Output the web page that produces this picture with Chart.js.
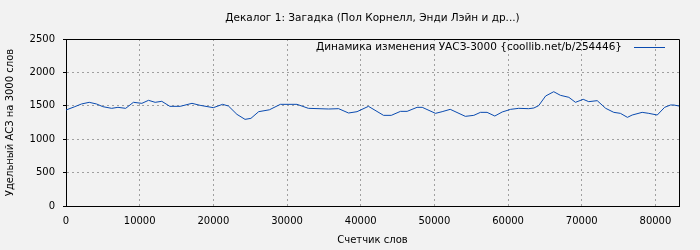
<!DOCTYPE html>
<html>
<head>
<meta charset="utf-8">
<script src="https://cdn.jsdelivr.net/npm/chart.js@4/dist/chart.umd.min.js"></script>
<style>
  html, body { margin: 0; padding: 0; background: #f2f2f2; }
  #c { display: block; }
</style>
</head>
<body>
<canvas id="c" width="700" height="250"></canvas>
<script>
const chartTitle = "Декалог 1: Загадка (Пол Корнелл, Энди Лэйн и др...)";
const seriesLabel = "Динамика изменения УАСЗ-3000 {coollib.net/b/254446}";
const xAxisTitle = "Счетчик слов";
const yAxisTitle = "Удельный АСЗ на 3000 слов";

const wordCounts = [0, 1200, 2100, 3150, 4150, 5000, 6200, 7050, 8100, 9150, 10300, 11200, 12100, 13000, 14100, 15500, 17100, 18200, 20000, 21250, 22050, 23200, 24300, 25100, 26150, 27600, 29100, 31350, 32900, 35650, 37000, 38350, 39500, 41050, 43100, 44150, 45400, 46300, 47650, 48350, 50150, 51050, 52150, 54200, 55350, 56250, 57150, 58200, 59200, 60350, 61450, 62800, 63500, 64150, 65100, 66200, 67100, 68250, 69150, 70200, 70950, 72100, 73250, 74350, 75250, 76200, 76850, 78200, 79100, 80250, 81250, 82050, 82500, 83200];
const uaszValues = [1437, 1487, 1527, 1552, 1527, 1487, 1462, 1477, 1462, 1552, 1537, 1582, 1552, 1567, 1492, 1492, 1537, 1507, 1472, 1522, 1497, 1372, 1297, 1312, 1412, 1440, 1522, 1522, 1462, 1452, 1457, 1392, 1412, 1492, 1357, 1357, 1417, 1417, 1477, 1477, 1387, 1412, 1447, 1342, 1357, 1402, 1402, 1347, 1407, 1447, 1462, 1457, 1467, 1502, 1647, 1711, 1657, 1627, 1552, 1597, 1562, 1577, 1462, 1402, 1387, 1327, 1362, 1402, 1387, 1362, 1477, 1512, 1512, 1497];
const xTickValues = [0, 10000, 20000, 30000, 40000, 50000, 60000, 70000, 80000];
const yTickValues = [0, 500, 1000, 1500, 2000, 2500];
const xMax = 83200;
const yMax = 2500;

const lineColor = '#0a4bb0';
const fontFam = '"DejaVu Sans", sans-serif';

const bgPlugin = {
  id: 'bg',
  beforeDraw(chart) {
    const ctx = chart.ctx;
    ctx.save();
    ctx.fillStyle = '#f2f2f2';
    ctx.fillRect(0, 0, chart.width, chart.height);
    ctx.restore();
  },
  afterDraw(chart) {
    const ctx = chart.ctx;
    const a = chart.chartArea;
    ctx.save();
    ctx.strokeStyle = '#000';
    ctx.lineWidth = 1;
    ctx.setLineDash([]);
    ctx.beginPath();
    ctx.moveTo(Math.round(a.left) + 0.5, Math.round(a.top) + 0.5);
    ctx.lineTo(Math.round(a.right) + 0.5, Math.round(a.top) + 0.5);
    ctx.lineTo(Math.round(a.right) + 0.5, Math.round(a.bottom) + 0.5);
    ctx.stroke();
    // title centred over the plot area
    ctx.font = '10.5px ' + fontFam;
    ctx.fillStyle = '#000';
    ctx.textAlign = 'center';
    ctx.textBaseline = 'middle';
    ctx.fillText(chartTitle, (a.left + a.right) / 2, 18);
    // legend
    ctx.textAlign = 'right';
    ctx.fillText(seriesLabel, 622, 47);
    ctx.strokeStyle = lineColor;
    ctx.beginPath();
    ctx.moveTo(634, 47.5);
    ctx.lineTo(665, 47.5);
    ctx.stroke();
    ctx.restore();
  }
};

new Chart(document.getElementById('c'), {
  type: 'line',
  data: {
    datasets: [{
      label: seriesLabel,
      data: wordCounts.map((x, i) => ({ x: x, y: uaszValues[i] })),
      borderColor: lineColor,
      borderWidth: 1,
      pointRadius: 0,
      tension: 0,
      fill: false
    }]
  },
  options: {
    responsive: false,
    animation: false,
    devicePixelRatio: 1,
    layout: { padding: { left: 0, right: 21, top: 39, bottom: 0 } },
    plugins: {
      legend: { display: false },
      tooltip: { enabled: false },
      title: { display: false }
    },
    scales: {
      x: {
        type: 'linear',
        min: 0,
        max: xMax,
        afterFit(s) { s.height = 44; },
        afterBuildTicks(s) { s.ticks = xTickValues.map(v => ({ value: v })); },
        ticks: {
          color: '#000',
          padding: 9,
          maxRotation: 0,
          autoSkip: false,
          font: { family: fontFam, size: 10 },
          callback: v => String(v)
        },
        grid: { color: '#a0a0a0', lineWidth: 1, drawTicks: false },
        border: { display: true, color: '#000', width: 1, dash: [2, 3] },
        title: {
          display: true,
          text: xAxisTitle,
          color: '#000',
          font: { family: fontFam, size: 10 },
          padding: { top: 0, bottom: 4 }
        }
      },
      y: {
        type: 'linear',
        min: 0,
        max: yMax,
        afterFit(s) { s.width = 66; },
        afterBuildTicks(s) { s.ticks = yTickValues.map(v => ({ value: v })); },
        ticks: {
          color: '#000',
          padding: 8,
          autoSkip: false,
          font: { family: fontFam, size: 10 },
          callback: v => String(v)
        },
        grid: {
          color: '#a0a0a0',
          lineWidth: 1,
          drawTicks: true,
          tickLength: 3,
          tickColor: '#000',
          tickBorderDash: []
        },
        border: { display: true, color: '#000', width: 1, dash: [2, 3] },
        title: {
          display: true,
          text: yAxisTitle,
          color: '#000',
          font: { family: fontFam, size: 10 },
          padding: { top: 4, bottom: 0 }
        }
      }
    }
  },
  plugins: [bgPlugin]
});
</script>
</body>
</html>
